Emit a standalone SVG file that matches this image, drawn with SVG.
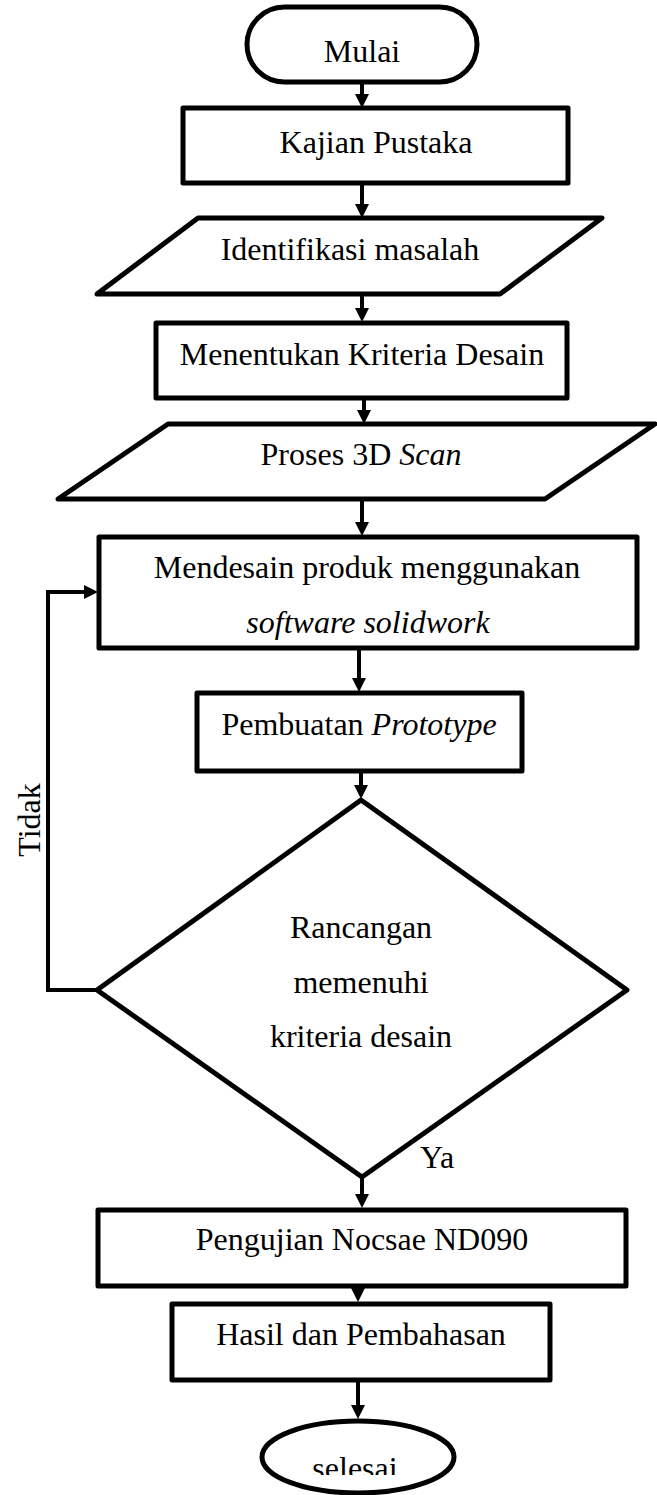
<svg xmlns="http://www.w3.org/2000/svg" width="657" height="1495" viewBox="0 0 657 1495">
  <style>
    .shape { fill: #ffffff; stroke: #000000; stroke-width: 5; stroke-linejoin: round; }
    .edge { fill: none; stroke: #000000; stroke-width: 4; stroke-linejoin: miter; }
    .lbl { font-family: "Liberation Serif", "Times New Roman", serif; font-size: 32px; fill: #000000; text-anchor: middle; }
    .it { font-style: italic; }
  </style>
  <defs>
    <marker id="arrow" markerUnits="userSpaceOnUse" markerWidth="16" markerHeight="16" refX="4" refY="7" orient="auto">
      <path d="M0,0 L14,7 L0,14 Z" fill="#000000"/>
    </marker>
    <clipPath id="clipEnd">
      <rect x="0" y="1400" width="657" height="75"/>
    </clipPath>
  </defs>
  <rect width="657" height="1495" fill="#ffffff"/>

  <g id="connectors">
    <line class="edge" x1="362" y1="82" x2="362" y2="98" marker-end="url(#arrow)"/>
    <line class="edge" x1="362" y1="183" x2="362" y2="208" marker-end="url(#arrow)"/>
    <line class="edge" x1="362" y1="294" x2="362" y2="312" marker-end="url(#arrow)"/>
    <line class="edge" x1="364" y1="398" x2="364" y2="414" marker-end="url(#arrow)"/>
    <line class="edge" x1="362" y1="499" x2="362" y2="526" marker-end="url(#arrow)"/>
    <line class="edge" x1="359" y1="648" x2="359" y2="682" marker-end="url(#arrow)"/>
    <line class="edge" x1="361" y1="771" x2="361" y2="789" marker-end="url(#arrow)"/>
    <line class="edge" x1="362" y1="1177" x2="362" y2="1198" marker-end="url(#arrow)"/>
    <line class="edge" x1="358" y1="1286" x2="358" y2="1292" marker-end="url(#arrow)"/>
    <line class="edge" x1="358" y1="1380" x2="358" y2="1409" marker-end="url(#arrow)"/>
    <polyline class="edge" points="97,990 48,990 48,592 88,592" marker-end="url(#arrow)"/>
    <text class="lbl" transform="translate(40,820) rotate(-90)">Tidak</text>
    <text class="lbl" x="420" y="1168" style="text-anchor:start">Ya</text>
  </g>

  <g id="mulai">
    <rect class="shape" x="247" y="7" width="230" height="75" rx="37.5" ry="37.5"/>
    <text class="lbl" x="362" y="62">Mulai</text>
  </g>

  <g id="kajian">
    <rect class="shape" x="183" y="108" width="385" height="75"/>
    <text class="lbl" x="376" y="153">Kajian Pustaka</text>
  </g>

  <g id="identifikasi">
    <polygon class="shape" points="198,218 602,218 500,294 97,294"/>
    <text class="lbl" x="350" y="260">Identifikasi masalah</text>
  </g>

  <g id="kriteria">
    <rect class="shape" x="156" y="323" width="411" height="75"/>
    <text class="lbl" x="362" y="365">Menentukan Kriteria Desain</text>
  </g>

  <g id="scan">
    <polygon class="shape" points="168,424 655,424 545,499 58,499"/>
    <text class="lbl" x="361" y="465">Proses 3D <tspan class="it">Scan</tspan></text>
  </g>

  <g id="mendesain">
    <rect class="shape" x="99" y="537" width="538" height="111"/>
    <text class="lbl" x="367" y="578">Mendesain produk menggunakan</text>
    <text class="lbl it" x="368" y="633">software solidwork</text>
  </g>

  <g id="prototype">
    <rect class="shape" x="197" y="693" width="325" height="78"/>
    <text class="lbl" x="359" y="735">Pembuatan <tspan class="it">Prototype</tspan></text>
  </g>

  <g id="keputusan">
    <polygon class="shape" points="361,800 627,990 362,1177 97,990"/>
    <text class="lbl" x="361" y="938">Rancangan</text>
    <text class="lbl" x="361" y="993">memenuhi</text>
    <text class="lbl" x="361" y="1047">kriteria desain</text>
  </g>

  <g id="pengujian">
    <rect class="shape" x="98" y="1210" width="528" height="76"/>
    <text class="lbl" x="362" y="1250">Pengujian Nocsae ND090</text>
  </g>

  <g id="hasil">
    <rect class="shape" x="172" y="1304" width="378" height="76"/>
    <text class="lbl" x="361" y="1345">Hasil dan Pembahasan</text>
  </g>

  <g id="selesai">
    <ellipse class="shape" cx="358" cy="1457" rx="96" ry="36"/>
    <text class="lbl" x="355" y="1479" clip-path="url(#clipEnd)">selesai</text>
  </g>
</svg>
